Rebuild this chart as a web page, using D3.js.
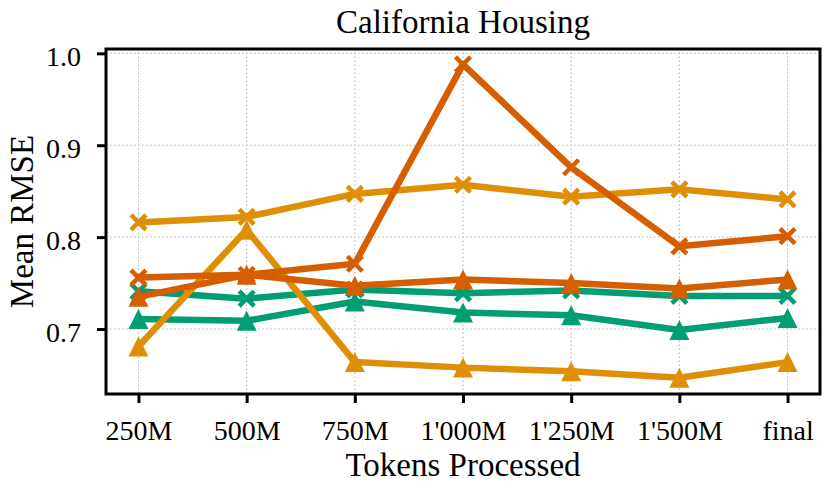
<!DOCTYPE html>
<html>
<head>
<meta charset="utf-8">
<script src="https://cdn.jsdelivr.net/npm/d3@7"></script>
<style>
  body { margin: 0; background: #fff; }
  svg { display: block; font-family: "Liberation Serif", "DejaVu Serif", serif; }
</style>
</head>
<body>
<svg id="chart"></svg>
<script>
// data
const tokenLabels = ["250M", "500M", "750M", "1'000M", "1'250M", "1'500M", "final"];
const yTicks = [0.7, 0.8, 0.9, 1.0];

const orangeCross = [0.816, 0.822, 0.847, 0.857, 0.844, 0.852, 0.841];
const orangeTri   = [0.681, 0.808, 0.664, 0.658, 0.654, 0.647, 0.664];
const greenCross  = [0.741, 0.733, 0.743, 0.739, 0.742, 0.736, 0.736];
const greenTri    = [0.711, 0.709, 0.730, 0.718, 0.715, 0.699, 0.712];
const redCross    = [0.756, 0.759, 0.771, 0.988, 0.876, 0.790, 0.801];
const redTri      = [0.735, 0.759, 0.747, 0.754, 0.750, 0.744, 0.754];

// draw order: green under orange under red
const series = [
    { values: greenCross,  color: "#029E73", marker: "x" },
    { values: greenTri,    color: "#029E73", marker: "tri" },
    { values: orangeCross, color: "#DE8F05", marker: "x" },
    { values: orangeTri,   color: "#DE8F05", marker: "tri" },
    { values: redCross,    color: "#D55E00", marker: "x" },
    { values: redTri,      color: "#D55E00", marker: "tri" },
];

const width = 829;
const height = 492;
const margin = { top: 49, right: 9, bottom: 98, left: 106 };

const svg = d3.select("#chart").attr("width", width).attr("height", height);

// 比例尺
const x = d3.scaleLinear()
    .domain([-0.3, tokenLabels.length - 1 + 0.3])
    .range([margin.left, width - margin.right]);
const y = d3.scaleLinear()
    .domain([0.6293, 1.0047])
    .range([height - margin.bottom, margin.top]);

// grid
const grid = svg.append("g")
    .attr("stroke", "#b0b0b0")
    .attr("stroke-width", 1)
    .attr("stroke-dasharray", "1.5,2.5");
grid.selectAll(".vg")
    .data(d3.range(tokenLabels.length))
    .enter().append("line")
    .attr("x1", d => x(d)).attr("x2", d => x(d))
    .attr("y1", y.range()[0]).attr("y2", y.range()[1]);
grid.selectAll(".hg")
    .data(yTicks)
    .enter().append("line")
    .attr("x1", x.range()[0]).attr("x2", x.range()[1])
    .attr("y1", d => y(d)).attr("y2", d => y(d));

// lines + markers
const line = d3.line()
    .x((d, i) => x(i))
    .y(d => y(d));

const triPath = (cx, cy) => {
    const h = 10;
    return `M${cx},${cy - h}L${cx - h},${cy + h}L${cx + h},${cy + h}Z`;
};

series.forEach(s => {
    const g = svg.append("g");
    g.append("path")
        .attr("d", line(s.values))
        .attr("fill", "none")
        .attr("stroke", s.color)
        .attr("stroke-width", 6.5)
        .attr("stroke-linejoin", "round");
    if (s.marker === "tri") {
        g.selectAll("path.m")
            .data(s.values)
            .enter().append("path")
            .attr("class", "m")
            .attr("d", (d, i) => triPath(x(i), y(d)))
            .attr("fill", s.color);
    } else {
        const a = 7.5;
        const m = g.selectAll("g.m")
            .data(s.values)
            .enter().append("g")
            .attr("class", "m")
            .attr("transform", (d, i) => "translate(" + x(i) + "," + y(d) + ")")
            .attr("stroke", s.color)
            .attr("stroke-width", 4.5);
        m.append("line").attr("x1", -a).attr("y1", -a).attr("x2", a).attr("y2", a);
        m.append("line").attr("x1", -a).attr("y1", a).attr("x2", a).attr("y2", -a);
    }
});

// frame
svg.append("rect")
    .attr("x", x.range()[0]).attr("y", y.range()[1])
    .attr("width", x.range()[1] - x.range()[0])
    .attr("height", y.range()[0] - y.range()[1])
    .attr("fill", "none")
    .attr("stroke", "#000")
    .attr("stroke-width", 3);

// axes
const xAxis = d3.axisBottom(x)
    .tickValues(d3.range(tokenLabels.length))
    .tickFormat(i => tokenLabels[i])
    .tickSize(9)
    .tickPadding(17);
const yAxis = d3.axisLeft(y)
    .tickValues(yTicks)
    .tickFormat(d3.format(".1f"))
    .tickSize(9)
    .tickPadding(16);

const gx = svg.append("g")
    .attr("transform", "translate(0," + y.range()[0] + ")")
    .call(xAxis);
const gy = svg.append("g")
    .attr("transform", "translate(" + x.range()[0] + ",0)")
    .call(yAxis);

[gx, gy].forEach(g => {
    g.select(".domain").remove();
    g.selectAll(".tick line").attr("stroke", "#000").attr("stroke-width", 3);
    g.selectAll(".tick text")
        .attr("fill", "#000")
        .style("font-size", "28px")
        .style("font-family", "Liberation Serif");
});
gy.selectAll(".tick text").attr("dy", "0.45em");

// labels
svg.append("text")
    .attr("x", (x.range()[0] + x.range()[1]) / 2)
    .attr("y", 33)
    .attr("text-anchor", "middle")
    .style("font-size", "33px")
    .text("California Housing");

svg.append("text")
    .attr("x", (x.range()[0] + x.range()[1]) / 2)
    .attr("y", 476)
    .attr("text-anchor", "middle")
    .style("font-size", "33px")
    .text("Tokens Processed");

svg.append("text")
    .attr("transform", "translate(33," + (y.range()[0] + y.range()[1]) / 2 + ") rotate(-90)")
    .attr("text-anchor", "middle")
    .style("font-size", "33px")
    .text("Mean RMSE");
</script>
</body>
</html>
